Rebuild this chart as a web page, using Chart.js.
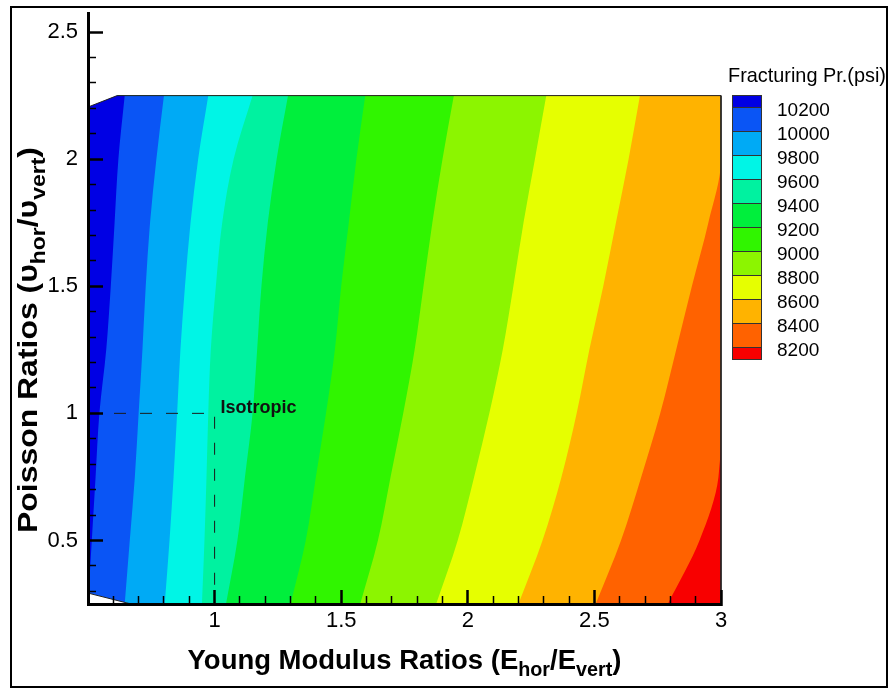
<!DOCTYPE html>
<html>
<head>
<meta charset="utf-8">
<script src="https://cdn.jsdelivr.net/npm/chart.js@4.4.1/dist/chart.umd.min.js"></script>
<style>
html,body{margin:0;padding:0;background:#fff;}
#wrap{width:893px;height:691px;position:relative;}
</style>
</head>
<body>
<div id="wrap"><canvas id="c"></canvas></div>
<script>
const FONT = '"Liberation Sans", Arial, Helvetica, sans-serif';

// Poisson ratio levels (y) at which contour boundaries were read
const poissonLevels = [0.25, 0.5, 0.75, 1.0, 1.25, 1.5, 1.75, 2.0, 2.25];
// Young modulus ratio (x) of each contour boundary at those levels
const edge10200 = [0.500, 0.515, 0.530, 0.545, 0.572, 0.590, 0.605, 0.620, 0.645];
const edge10000 = [0.645, 0.665, 0.685, 0.700, 0.715, 0.728, 0.745, 0.770, 0.800];
const edge9800  = [0.803, 0.822, 0.838, 0.852, 0.865, 0.883, 0.905, 0.935, 0.975];
const edge9600  = [0.950, 0.960, 0.968, 0.975, 0.985, 1.005, 1.030, 1.075, 1.150];
const edge9400  = [1.045, 1.090, 1.120, 1.150, 1.168, 1.185, 1.210, 1.245, 1.290];
const edge9200  = [1.300, 1.360, 1.400, 1.440, 1.475, 1.500, 1.530, 1.560, 1.595];
const edge9000  = [1.575, 1.645, 1.695, 1.745, 1.790, 1.825, 1.860, 1.900, 1.945];
const edge8800  = [1.875, 1.960, 2.025, 2.085, 2.138, 2.180, 2.220, 2.265, 2.310];
const edge8600  = [2.200, 2.295, 2.370, 2.430, 2.480, 2.535, 2.585, 2.635, 2.680];
const edge8400  = [2.505, 2.605, 2.685, 2.760, 2.823, 2.885, 2.950, 3.000, 3.000];
const edge8200  = [2.790, 2.915, 2.990, 3.000, 3.000, 3.000, 3.000, 3.000, 3.000];

const pressureLevels = [10200, 10000, 9800, 9600, 9400, 9200, 9000, 8800, 8600, 8400, 8200];
const bandColors = ['#0000e4', '#0a55f5', '#00aaf5', '#00f5e6', '#00f2a0', '#00ef3c',
                    '#30f500', '#8cf500', '#e6ff00', '#ffb300', '#ff6200', '#f80000'];

// domain outline of the computed field
const domainX = [0.5, 0.615, 3.0, 3.0];
const domainY = [2.205, 2.25, 2.25, 0.25];
const cornerX = [0.67, 0.5];
const cornerY = [0.25, 0.293];
const maskTopX = [0.5, 0.615, 0.615];
const maskTopY = [2.205, 2.25, 2.27];
const domainRightX = [3.0, 3.0];
const domainRightY = [0.25, 2.25];

// isotropic marker
const isoX = [0.5, 1, 1];
const isoY = [1, 1, 0.25];

// ticks
const xMajorTicks = [0.5, 1, 1.5, 2, 2.5, 3];
const xTickLabels = ['', '1', '1.5', '2', '2.5', '3'];
const xMinorTicks = [0.6,0.7,0.8,0.9,1.1,1.2,1.3,1.4,1.6,1.7,1.8,1.9,2.1,2.2,2.3,2.4,2.6,2.7,2.8,2.9];
const yMajorTicks = [0.5, 1, 1.5, 2, 2.5];
const yTickLabels = ['0.5', '1', '1.5', '2', '2.5'];
const yMinorTicks = [0.3,0.4,0.6,0.7,0.8,0.9,1.1,1.2,1.3,1.4,1.6,1.7,1.8,1.9,2.1,2.2,2.3,2.4];

const edges = [edge10200, edge10000, edge9800, edge9600, edge9400, edge9200,
               edge9000, edge8800, edge8600, edge8400, edge8200];

const pts = (xs, ys) => xs.map((x, i) => ({x, y: ys[i]}));
const common = {pointRadius: 0, pointHoverRadius: 0, pointHitRadius: 0};

const datasets = [];
datasets.push(Object.assign({label: 'Isotropic', data: pts(isoX, isoY), borderColor: '#1a1a1a',
  borderWidth: 1, borderDash: [12, 14], fill: false, tension: 0, clip: 4}, common));
datasets.push(Object.assign({label: 'outline', data: pts(domainX, domainY), borderColor: '#222',
  borderWidth: 1, fill: false, tension: 0, clip: 4}, common));
datasets.push(Object.assign({label: 'outline2', data: pts(cornerX, cornerY).slice().reverse(), borderColor: '#222',
  borderWidth: 1, fill: false, tension: 0, clip: 4}, common));
datasets.push(Object.assign({label: 'maskTL', data: pts(maskTopX, maskTopY), borderColor: 'rgba(0,0,0,0)',
  borderWidth: 0, backgroundColor: '#ffffff', fill: {value: 0.5}, tension: 0, clip: 0}, common));
datasets.push(Object.assign({label: 'maskBL', data: pts(cornerX, cornerY), borderColor: 'rgba(0,0,0,0)',
  borderWidth: 0, backgroundColor: '#ffffff', fill: {value: 0.5}, tension: 0, clip: 0}, common));
edges.forEach((e, k) => {
  datasets.push(Object.assign({label: '> ' + pressureLevels[k], data: pts(e, poissonLevels),
    borderColor: 'rgba(0,0,0,0)', borderWidth: 0, backgroundColor: bandColors[k],
    fill: {value: 0.5}, cubicInterpolationMode: 'monotone', clip: 0}, common));
});
datasets.push(Object.assign({label: '< 8200', data: pts(domainRightX, domainRightY),
  borderColor: 'rgba(0,0,0,0)', borderWidth: 0, backgroundColor: bandColors[11],
  fill: {value: 0.5}, tension: 0, clip: 0}, common));

function richWidth(ctx, parts, size, subRatio) {
  let w = 0;
  for (const p of parts) {
    ctx.font = 'bold ' + (p.sub ? size * subRatio : size) + 'px ' + FONT;
    w += ctx.measureText(p.t).width;
  }
  return w;
}
function drawRich(ctx, parts, size, subRatio, x0, base) {
  let x = x0;
  for (const p of parts) {
    const s = p.sub ? size * subRatio : size;
    ctx.font = 'bold ' + s + 'px ' + FONT;
    ctx.fillText(p.t, x, base + (p.sub ? size * 0.27 : 0));
    x += ctx.measureText(p.t).width;
  }
}

const xTitle = [{t: 'Young Modulus Ratios (E'}, {t: 'hor', sub: true}, {t: '/E'}, {t: 'vert', sub: true}, {t: ')'}];
const yTitle = [{t: 'Poisson Ratios ('}, {t: '\u03C5'}, {t: 'hor', sub: true}, {t: '/\u03C5'}, {t: 'vert', sub: true}, {t: ')'}];

const decor = {
  id: 'decor',
  beforeDraw(chart) {
    const ctx = chart.ctx;
    ctx.save();
    ctx.fillStyle = '#fff';
    ctx.fillRect(0, 0, chart.width, chart.height);
    ctx.restore();
  },
  afterDraw(chart) {
    const ctx = chart.ctx;
    const xs = chart.scales.x, ys = chart.scales.y;
    ctx.save();
    ctx.fillStyle = '#000';
    ctx.textBaseline = 'alphabetic';
    ctx.textAlign = 'left';

    // x title
    const sub = 0.72;
    let w = richWidth(ctx, xTitle, 26, sub);
    let size = 26 * 434 / w;
    w = richWidth(ctx, xTitle, size, sub);
    const cx = (chart.chartArea.left + chart.chartArea.right) / 2;
    drawRich(ctx, xTitle, size, sub, cx - w / 2, 669);

    // y title
    ctx.save();
    ctx.translate(37, 340);
    ctx.rotate(-Math.PI / 2);
    const ysz = 28;
    const wy = richWidth(ctx, yTitle, ysz, sub);
    const stretch = Math.max(1, 386 / wy);
    ctx.scale(stretch, 1);
    drawRich(ctx, yTitle, ysz, sub, -wy / 2, 0);
    ctx.restore();

    // Isotropic label
    ctx.font = 'bold 18px ' + FONT;
    ctx.fillStyle = '#111';
    ctx.textBaseline = 'middle';
    ctx.fillText('Isotropic', xs.getPixelForValue(1) + 6, ys.getPixelForValue(1) - 5);

    // colour bar legend
    ctx.fillStyle = '#000';
    ctx.textBaseline = 'alphabetic';
    ctx.font = '15px ' + FONT;
    const tt = 'Fracturing Pr.(psi)';
    const tw = ctx.measureText(tt).width;
    const tsize = 15 * 158 / tw;
    ctx.font = tsize + 'px ' + FONT;
    ctx.fillText(tt, 728, 82);

    const bx = 732, by = 95, bw = 30, step = 24;
    let y = by;
    for (let i = 0; i < bandColors.length; i++) {
      const h = (i === 0 || i === bandColors.length - 1) ? step / 2 : step;
      ctx.fillStyle = bandColors[i];
      ctx.fillRect(bx, y, bw, h);
      ctx.strokeStyle = '#333';
      ctx.lineWidth = 1;
      ctx.strokeRect(bx + 0.5, y + 0.5, bw - 1, h);
      y += h;
    }
    ctx.fillStyle = '#000';
    ctx.font = '19px ' + FONT;
    ctx.textBaseline = 'middle';
    pressureLevels.forEach((lv, k) => {
      ctx.fillText(String(lv), 777, by + step / 2 + k * step + 4);
    });

    // outer frame
    ctx.strokeStyle = '#000';
    ctx.lineWidth = 2;
    ctx.strokeRect(11, 7, 876, 680);
    ctx.restore();
  }
};

const tickFont = {family: FONT, size: 22};
const noPadH = s => { s.paddingLeft = 0; s.paddingRight = 0; };
const noPadV = s => { s.paddingTop = 0; s.paddingBottom = 0; };

new Chart(document.getElementById('c'), {
  type: 'line',
  data: {datasets},
  options: {
    indexAxis: 'y',
    responsive: true,
    maintainAspectRatio: false,
    animation: false,
    events: [],
    layout: {padding: {left: 0, right: 172, top: 13, bottom: 0}},
    plugins: {legend: {display: false}, tooltip: {enabled: false}, title: {display: false}},
    scales: {
      x: {
        type: 'linear', position: 'bottom', min: 0.5, max: 3, weight: 1,
        afterBuildTicks: s => { s.ticks = xMajorTicks.map(v => ({value: v})); },
        afterFit: s => { s.height = 87; noPadH(s); },
        ticks: {callback: (v, i) => xTickLabels[i], font: tickFont, color: '#000', padding: 18,
                autoSkip: false, maxRotation: 0, minRotation: 0},
        grid: {drawOnChartArea: false, drawTicks: true, tickLength: -14, tickWidth: 2.5, tickColor: '#000', z: 1},
        border: {display: true, color: '#000', width: 3, z: 2}
      },
      x2: {
        type: 'linear', position: 'bottom', min: 0.5, max: 3, weight: 0,
        afterBuildTicks: s => { s.ticks = xMinorTicks.map(v => ({value: v})); },
        afterFit: s => { s.height = 0; noPadH(s); },
        ticks: {display: false},
        grid: {drawOnChartArea: false, drawTicks: true, tickLength: -8, tickWidth: 1.5, tickColor: '#000', z: 1},
        border: {display: false}
      },
      y: {
        type: 'linear', position: 'left', min: 0.25, max: 2.575, weight: 1,
        afterBuildTicks: s => { s.ticks = yMajorTicks.map(v => ({value: v})); },
        afterFit: s => { s.width = 88; noPadV(s); },
        ticks: {callback: (v, i) => yTickLabels[i], font: tickFont, color: '#000', padding: 25, autoSkip: false},
        grid: {drawOnChartArea: false, drawTicks: true, tickLength: -15, tickWidth: 2.5, tickColor: '#000', z: 1},
        border: {display: true, color: '#000', width: 3, z: 2}
      },
      y2: {
        type: 'linear', position: 'left', min: 0.25, max: 2.575, weight: 0,
        afterBuildTicks: s => { s.ticks = yMinorTicks.map(v => ({value: v})); },
        afterFit: s => { s.width = 0; noPadV(s); },
        ticks: {display: false},
        grid: {drawOnChartArea: false, drawTicks: true, tickLength: -8, tickWidth: 1.5, tickColor: '#000', z: 1},
        border: {display: false}
      }
    }
  },
  plugins: [decor]
});
</script>
</body>
</html>
